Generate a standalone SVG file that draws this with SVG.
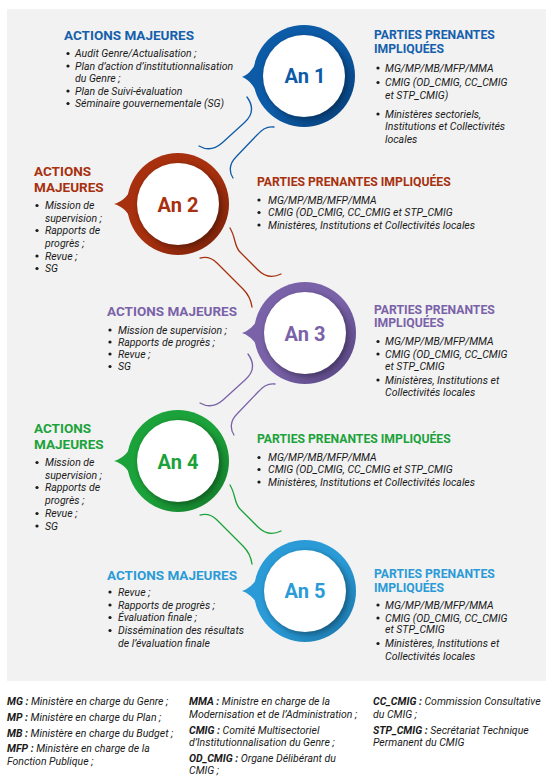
<svg xmlns="http://www.w3.org/2000/svg" width="549" height="784" viewBox="0 0 549 784">
<style>
.h{font-family:Roboto,"Liberation Sans",sans-serif;font-weight:700}
.ha{font-size:13.5px}
.hp{font-size:12.2px}
.it{font-family:Roboto,"Liberation Sans",sans-serif;font-style:italic;font-size:10.5px;fill:#1a1a1a}
.b{font-weight:700}
.an{font-family:Roboto,"Liberation Sans",sans-serif;font-weight:700;font-size:20px;text-anchor:middle}
.dot{fill:#1a1a1a}
.con{fill:none;stroke-width:1.3;stroke-linecap:round}
</style>
<defs>
<linearGradient id="g1" x1="0.2" y1="0.2" x2="0.9" y2="0.9"><stop offset="0.45" stop-color="#0D5BA7"/><stop offset="1" stop-color="#08437e"/></linearGradient>
<linearGradient id="g2" x1="0.2" y1="0.2" x2="0.9" y2="0.9"><stop offset="0.45" stop-color="#A7300E"/><stop offset="1" stop-color="#80240a"/></linearGradient>
<linearGradient id="g3" x1="0.2" y1="0.2" x2="0.9" y2="0.9"><stop offset="0.45" stop-color="#7A62A8"/><stop offset="1" stop-color="#5c4987"/></linearGradient>
<linearGradient id="g4" x1="0.2" y1="0.2" x2="0.9" y2="0.9"><stop offset="0.45" stop-color="#1CA23A"/><stop offset="1" stop-color="#15812d"/></linearGradient>
<linearGradient id="g5" x1="0.2" y1="0.2" x2="0.9" y2="0.9"><stop offset="0.45" stop-color="#2A9BD7"/><stop offset="1" stop-color="#1e7db3"/></linearGradient>
<filter id="sh" x="-30%" y="-30%" width="160%" height="160%"><feGaussianBlur stdDeviation="2.5"/></filter>
</defs>
<rect x="0" y="0" width="549" height="784" fill="#ffffff"/>
<rect x="7" y="9" width="539" height="672" fill="#F2F2F2"/>

<g id="connectors">
<path class="con" stroke="#0D5BA7" d="M247,97 C255,108 252,116 244,123 L222,143 C214,150 206,150 199,146"/>
<path class="con" stroke="#0D5BA7" d="M274,127 C266,126 262,130 257,135 L236,157 C229,164 229,172 233,178"/>
<path class="con" stroke="#A7300E" d="M230,228 C236,238 234,246 240,252 L258,270 C265,277 273,278 281,274"/>
<path class="con" stroke="#A7300E" d="M200,258 C207,256 212,258 217,263 L243,289 C249,295 251,300 252,307"/>
<path class="con" stroke="#7A62A8" d="M248,354 C256,365 253,373 245,380 L223,400 C215,407 207,407 200,403"/>
<path class="con" stroke="#7A62A8" d="M275,384 C267,383 263,387 258,392 L237,414 C230,421 230,429 234,435"/>
<path class="con" stroke="#1CA23A" d="M230,485 C236,495 234,503 240,509 L258,527 C265,534 273,535 281,531"/>
<path class="con" stroke="#1CA23A" d="M200,515 C207,513 212,515 217,520 L243,546 C249,552 251,557 252,564"/>
</g>

<g id="an1">
<path fill="#0D5BA7" d="M257,62 C252,70 248,75 242,77 C248,79 252,84 257,92 Z"/>
<circle cx="304" cy="76" r="51" fill="url(#g1)"/>
<circle cx="306" cy="78" r="42" fill="#000" opacity="0.3" filter="url(#sh)"/>
<circle cx="304" cy="76" r="41" fill="#fff"/>
<text class="an" x="305" y="83" fill="#0D5BA7">An 1</text>
<text class="h ha" x="64" y="40" fill="#1560AC">ACTIONS MAJEURES</text>
<g class="it">
<text x="75" y="57">Audit Genre/Actualisation ;</text>
<text x="75" y="69.5">Plan d’action d’institutionnalisation</text>
<text x="75" y="82">du Genre ;</text>
<text x="75" y="94.5">Plan de Suivi-évaluation</text>
<text x="75" y="107">Séminaire gouvernementale (SG)</text>
</g>
<circle class="dot" cx="68" cy="53.5" r="1.6"/><circle class="dot" cx="68" cy="66" r="1.6"/><circle class="dot" cx="68" cy="91" r="1.6"/><circle class="dot" cx="68" cy="103.5" r="1.6"/>
<text class="h hp" x="374" y="39" fill="#1560AC">PARTIES PRENANTES</text>
<text class="h hp" x="374" y="53" fill="#1560AC">IMPLIQUÉES</text>
<g class="it">
<text x="385" y="71.5">MG/MP/MB/MFP/MMA</text>
<text x="385" y="86">CMIG (OD_CMIG, CC_CMIG</text>
<text x="385" y="98.5">et STP_CMIG)</text>
<text x="385" y="117.5">Ministères sectoriels,</text>
<text x="385" y="130">Institutions et Collectivités</text>
<text x="385" y="142.5">locales</text>
</g>
<circle class="dot" cx="378" cy="68" r="1.6"/><circle class="dot" cx="378" cy="82.5" r="1.6"/><circle class="dot" cx="378" cy="114" r="1.6"/>
</g>

<g id="an2">
<path fill="#A7300E" d="M131,190 C126,198 121,202 114,204 C121,206 126,210 131,218 Z"/>
<circle cx="178" cy="204" r="51" fill="url(#g2)"/>
<circle cx="180" cy="206" r="42" fill="#000" opacity="0.3" filter="url(#sh)"/>
<circle cx="178" cy="204" r="41" fill="#fff"/>
<text class="an" x="178" y="212" fill="#A7300E">An 2</text>
<text class="h ha" x="34" y="176" fill="#A7300E">ACTIONS</text>
<text class="h ha" x="34" y="192" fill="#A7300E">MAJEURES</text>
<g class="it">
<text x="45" y="209">Mission de</text>
<text x="45" y="221.5">supervision ;</text>
<text x="45" y="234">Rapports de</text>
<text x="45" y="246.5">progrès ;</text>
<text x="45" y="259.5">Revue ;</text>
<text x="45" y="272">SG</text>
</g>
<circle class="dot" cx="37" cy="205.5" r="1.6"/><circle class="dot" cx="37" cy="230.5" r="1.6"/><circle class="dot" cx="37" cy="256" r="1.6"/><circle class="dot" cx="37" cy="268.5" r="1.6"/>
<text class="h hp" x="257" y="185.5" fill="#A7300E">PARTIES PRENANTES IMPLIQUÉES</text>
<g class="it">
<text x="268" y="203.5">MG/MP/MB/MFP/MMA</text>
<text x="268" y="216">CMIG (OD_CMIG, CC_CMIG et STP_CMIG</text>
<text x="268" y="228.5">Ministères, Institutions et Collectivités locales</text>
</g>
<circle class="dot" cx="259" cy="200" r="1.6"/><circle class="dot" cx="259" cy="212.5" r="1.6"/><circle class="dot" cx="259" cy="225" r="1.6"/>
</g>

<g id="an3">
<path fill="#7A62A8" d="M258,319 C253,327 248,331 242,333 C248,335 253,339 258,347 Z"/>
<circle cx="305" cy="333" r="51" fill="url(#g3)"/>
<circle cx="307" cy="335" r="42" fill="#000" opacity="0.3" filter="url(#sh)"/>
<circle cx="305" cy="333" r="41" fill="#fff"/>
<text class="an" x="305" y="341" fill="#7A62A8">An 3</text>
<text class="h ha" x="107" y="316" fill="#7A62A8">ACTIONS MAJEURES</text>
<g class="it">
<text x="118" y="333.5">Mission de supervision ;</text>
<text x="118" y="345.5">Rapports de progrès ;</text>
<text x="118" y="357.5">Revue ;</text>
<text x="118" y="370">SG</text>
</g>
<circle class="dot" cx="110" cy="330" r="1.6"/><circle class="dot" cx="110" cy="342" r="1.6"/><circle class="dot" cx="110" cy="354" r="1.6"/><circle class="dot" cx="110" cy="366.5" r="1.6"/>
<text class="h hp" x="374" y="313.5" fill="#7A62A8">PARTIES PRENANTES</text>
<text class="h hp" x="374" y="327" fill="#7A62A8">IMPLIQUÉES</text>
<g class="it">
<text x="385" y="345">MG/MP/MB/MFP/MMA</text>
<text x="385" y="357.5">CMIG (OD_CMIG, CC_CMIG</text>
<text x="385" y="369.5">et STP_CMIG</text>
<text x="385" y="383.5">Ministères, Institutions et</text>
<text x="385" y="396">Collectivités locales</text>
</g>
<circle class="dot" cx="378" cy="341.5" r="1.6"/><circle class="dot" cx="378" cy="354" r="1.6"/><circle class="dot" cx="378" cy="380" r="1.6"/>
</g>

<g id="an4">
<path fill="#1CA23A" d="M131,447 C126,455 121,459 114,461 C121,463 126,467 131,475 Z"/>
<circle cx="178" cy="461" r="51" fill="url(#g4)"/>
<circle cx="180" cy="463" r="42" fill="#000" opacity="0.3" filter="url(#sh)"/>
<circle cx="178" cy="461" r="41" fill="#fff"/>
<text class="an" x="178" y="469" fill="#1CA23A">An 4</text>
<text class="h ha" x="34" y="432.5" fill="#1CA23A">ACTIONS</text>
<text class="h ha" x="34" y="448.5" fill="#1CA23A">MAJEURES</text>
<g class="it">
<text x="45" y="466">Mission de</text>
<text x="45" y="478.5">supervision ;</text>
<text x="45" y="491">Rapports de</text>
<text x="45" y="503.5">progrès ;</text>
<text x="45" y="517">Revue ;</text>
<text x="45" y="529.5">SG</text>
</g>
<circle class="dot" cx="37" cy="462.5" r="1.6"/><circle class="dot" cx="37" cy="487.5" r="1.6"/><circle class="dot" cx="37" cy="513.5" r="1.6"/><circle class="dot" cx="37" cy="526" r="1.6"/>
<text class="h hp" x="257" y="443" fill="#1CA23A">PARTIES PRENANTES IMPLIQUÉES</text>
<g class="it">
<text x="268" y="461">MG/MP/MB/MFP/MMA</text>
<text x="268" y="473">CMIG (OD_CMIG, CC_CMIG et STP_CMIG</text>
<text x="268" y="485.5">Ministères, Institutions et Collectivités locales</text>
</g>
<circle class="dot" cx="259" cy="457.5" r="1.6"/><circle class="dot" cx="259" cy="469.5" r="1.6"/><circle class="dot" cx="259" cy="482" r="1.6"/>
</g>

<g id="an5">
<path fill="#2A9BD7" d="M258,577 C253,585 248,589 242,591 C248,593 253,597 258,605 Z"/>
<circle cx="305" cy="591" r="51" fill="url(#g5)"/>
<circle cx="307" cy="593" r="42" fill="#000" opacity="0.3" filter="url(#sh)"/>
<circle cx="305" cy="591" r="41" fill="#fff"/>
<text class="an" x="305" y="598" fill="#2A9BD7">An 5</text>
<text class="h ha" x="107" y="579.5" fill="#2A9BD7">ACTIONS MAJEURES</text>
<g class="it">
<text x="118" y="595.5">Revue ;</text>
<text x="118" y="608.5">Rapports de progrès ;</text>
<text x="118" y="621">Évaluation finale ;</text>
<text x="118" y="634">Dissémination des résultats</text>
<text x="118" y="646.5">de l’évaluation finale</text>
</g>
<circle class="dot" cx="110" cy="592" r="1.6"/><circle class="dot" cx="110" cy="605" r="1.6"/><circle class="dot" cx="110" cy="617.5" r="1.6"/><circle class="dot" cx="110" cy="630.5" r="1.6"/>
<text class="h hp" x="374" y="578" fill="#2A9BD7">PARTIES PRENANTES</text>
<text class="h hp" x="374" y="592" fill="#2A9BD7">IMPLIQUÉES</text>
<g class="it">
<text x="385" y="608.5">MG/MP/MB/MFP/MMA</text>
<text x="385" y="621.5">CMIG (OD_CMIG, CC_CMIG</text>
<text x="385" y="633">et STP_CMIG</text>
<text x="385" y="647">Ministères, Institutions et</text>
<text x="385" y="659.5">Collectivités locales</text>
</g>
<circle class="dot" cx="378" cy="605" r="1.6"/><circle class="dot" cx="378" cy="618" r="1.6"/><circle class="dot" cx="378" cy="643.5" r="1.6"/>
</g>

<g id="legend" class="it">
<text x="7" y="705"><tspan class="b">MG :</tspan> Ministère en charge du Genre ;</text>
<text x="7" y="720.5"><tspan class="b">MP :</tspan> Ministère en charge du Plan ;</text>
<text x="7" y="736.5"><tspan class="b">MB :</tspan> Ministère en charge du Budget ;</text>
<text x="7" y="751.5"><tspan class="b">MFP :</tspan> Ministère en charge de la</text>
<text x="7" y="765">Fonction Publique ;</text>
<text x="189" y="705"><tspan class="b">MMA :</tspan> Ministre en charge de la</text>
<text x="189" y="717.5">Modernisation et de l’Administration ;</text>
<text x="189" y="733.5"><tspan class="b">CMIG :</tspan> Comité Multisectoriel</text>
<text x="189" y="745.5">d’Institutionnalisation du Genre ;</text>
<text x="189" y="761.5"><tspan class="b">OD_CMIG :</tspan> Organe Délibérant du</text>
<text x="189" y="774">CMIG ;</text>
<text x="373" y="705"><tspan class="b">CC_CMIG :</tspan> Commission Consultative</text>
<text x="373" y="718">du CMIG ;</text>
<text x="373" y="733.5"><tspan class="b">STP_CMIG :</tspan> Secrétariat Technique</text>
<text x="373" y="746">Permanent du CMIG</text>
</g>
</svg>
